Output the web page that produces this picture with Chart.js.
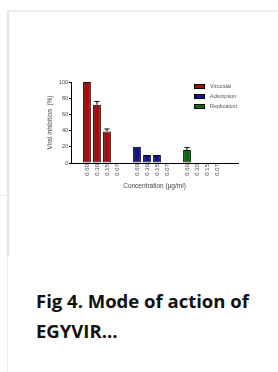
<!DOCTYPE html>
<html lang="en">
<head>
    <meta charset="UTF-8">
    <title>Fig 4. Mode of action of EGYVIR</title>
    <script src="https://cdn.jsdelivr.net/npm/chart.js@4.4.0/dist/chart.umd.min.js"></script>
    <style>
        html, body { margin: 0; padding: 0; background: #fff; }
        body { width: 278px; height: 372px; overflow: hidden; position: relative; }
        .card {
            position: absolute; left: 7px; top: 10px; width: 300px; height: 400px;
            border-top: 2px solid #ececec; border-left: 1px solid #ececec;
        }
        .thumb-edge { position: absolute; left: 7px; top: 10px; width: 2px; height: 246px; background: #e6e6e6; }
        .side-line { position: absolute; left: 0; top: 195px; width: 7px; height: 1px; background: #f0f0f0; }
        .chart-box { position: absolute; left: 46px; top: 70px; width: 209px; height: 120px; }
        .caption {
            position: absolute; left: 36px; top: 286px; width: 235px;
            font-family: "Open Sans", sans-serif; font-weight: 700; font-size: 18.5px;
            line-height: 30px; color: #111;
        }
    </style>
</head>
<body>
    <div class="card"></div>
    <div class="thumb-edge"></div>
    <div class="side-line"></div>
    <div class="chart-box"><canvas id="chart"></canvas></div>
    <div class="caption">Fig 4. Mode of action of<br>EGYVIR...</div>

    <script>
        // concentrations (ug/ml) shown under each group
        const concLabels = ['0.60', '0.30', '0.15', '0.07'];
        const groupNames = ['Virucidal', 'Adsorption', 'Replication'];

        const virucidal = [100, 72, 39, 0];
        const virucidalErr = [0, 4, 3, 0];
        const adsorption = [20, 10, 10, 0];
        const adsorptionErr = [0, 0, 0, 0];
        const replication = [16, 0, 0, 0];
        const replicationErr = [3, 0, 0, 0];

        const yTicks = [0, 20, 40, 60, 80, 100];
        const groupColors = ['#a30d0d', '#13138a', '#0d690d'];

        const seriesValues = [virucidal, adsorption, replication];
        const seriesErrors = [virucidalErr, adsorptionErr, replicationErr];

        // one empty slot between groups
        const slotsPerGroup = concLabels.length + 1;
        const tickLabels = [];
        groupNames.forEach((g, gi) => {
            concLabels.forEach(c => tickLabels.push(c));
            if (gi < groupNames.length - 1) tickLabels.push('');
        });

        const datasets = groupNames.map((name, gi) => ({
            label: name,
            data: seriesValues[gi].map((v, i) => ({ x: gi * slotsPerGroup + i, y: v })),
            backgroundColor: groupColors[gi],
            borderColor: '#000',
            borderWidth: 1,
            borderSkipped: false,
            barPercentage: 0.78,
            categoryPercentage: 1
        }));

        const font = 'Liberation Sans, Arial, sans-serif';

        const errorBars = {
            id: 'errorBars',
            afterDatasetsDraw(chart) {
                const { ctx, scales: { y } } = chart;
                ctx.save();
                ctx.strokeStyle = '#000';
                ctx.lineWidth = 1;
                chart.data.datasets.forEach((ds, di) => {
                    const meta = chart.getDatasetMeta(di);
                    seriesErrors[di].forEach((err, i) => {
                        if (!err) return;
                        const bar = meta.data[i];
                        const top = y.getPixelForValue(seriesValues[di][i] + err);
                        ctx.beginPath();
                        ctx.moveTo(bar.x, bar.y);
                        ctx.lineTo(bar.x, top);
                        ctx.moveTo(bar.x - 2.5, top);
                        ctx.lineTo(bar.x + 2.5, top);
                        ctx.stroke();
                    });
                });
                ctx.restore();
            }
        };

        const boxLegend = {
            id: 'boxLegend',
            afterDraw(chart) {
                const { ctx, chartArea } = chart;
                const x0 = chartArea.left + 123;
                const y0 = chartArea.top + 2;
                ctx.save();
                ctx.font = '5.5px ' + font;
                ctx.textBaseline = 'middle';
                chart.data.datasets.forEach((ds, i) => {
                    const y = y0 + i * 10;
                    ctx.fillStyle = ds.backgroundColor;
                    ctx.fillRect(x0, y, 10, 4);
                    ctx.strokeStyle = '#000';
                    ctx.lineWidth = 1;
                    ctx.strokeRect(x0 + 0.5, y + 0.5, 10, 4);
                    ctx.fillStyle = '#555';
                    ctx.fillText(ds.label, x0 + 16, y + 2.5);
                });
                ctx.restore();
            }
        };

        new Chart(document.getElementById('chart'), {
            type: 'bar',
            data: { datasets },
            plugins: [errorBars, boxLegend],
            options: {
                responsive: true,
                maintainAspectRatio: false,
                animation: false,
                layout: { padding: { top: 12, right: 17, left: 0, bottom: 0 } },
                plugins: { legend: { display: false }, tooltip: { enabled: false } },
                scales: {
                    x: {
                        type: 'linear',
                        stacked: true,
                        min: -1,
                        max: tickLabels.length + 0.5,
                        afterBuildTicks: (s) => { s.ticks = tickLabels.map((_, i) => ({ value: i })); },
                        afterFit: (s) => { s.height = 27; },
                        ticks: {
                            autoSkip: false,
                            minRotation: 90,
                            maxRotation: 90,
                            padding: 1,
                            color: '#444',
                            font: { family: font, size: 6 },
                            callback: (v) => tickLabels[v] ?? ''
                        },
                        grid: { drawOnChartArea: false, drawTicks: false },
                        border: { color: '#000', width: 1 },
                        title: {
                            display: true,
                            text: 'Concentration (µg/ml)',
                            color: '#444',
                            font: { family: font, size: 6.5 },
                            padding: { top: 1, bottom: 0 }
                        }
                    },
                    y: {
                        stacked: true,
                        min: 0,
                        max: 100,
                        afterBuildTicks: (s) => { s.ticks = yTicks.map(v => ({ value: v })); },
                        afterFit: (s) => { s.width = 25; },
                        ticks: {
                            color: '#444',
                            padding: 1,
                            font: { family: font, size: 5.5 }
                        },
                        grid: { drawOnChartArea: false, drawTicks: true, tickLength: 2, color: '#000' },
                        border: { color: '#000', width: 1 },
                        title: {
                            display: true,
                            text: 'Viral inhibition  (%)',
                            color: '#444',
                            font: { family: font, size: 6.5 },
                            padding: { top: 0, bottom: 2 }
                        }
                    }
                }
            }
        });
    </script>
</body>
</html>
